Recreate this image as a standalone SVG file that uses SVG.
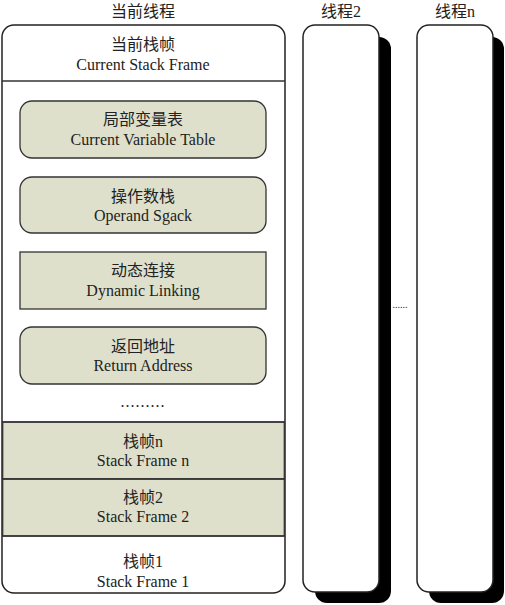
<svg xmlns="http://www.w3.org/2000/svg" width="505" height="605" viewBox="0 0 505 605">
<style>
text{font-family:"Liberation Serif","Noto Sans CJK SC",serif;font-size:16px;fill:#222;text-anchor:middle}
.box{fill:#dfe0cb;stroke:#333;stroke-width:1.3}
.outer{fill:#fff;stroke:#222;stroke-width:1.5}
.shadow{fill:#000}
.line{stroke:#333;stroke-width:1.3;fill:none}
</style>
<rect width="505" height="605" fill="#fff"/>
<g id="thread-current">
<text x="143" y="17">当前线程</text>
<rect class="outer" x="2" y="25" width="283" height="568" rx="12"/>
<rect class="box" x="2.7" y="422" width="281.6" height="57" stroke="none"/>
<rect class="box" x="2.7" y="479" width="281.6" height="57" stroke="none"/>
<line class="line" x1="2" y1="81" x2="285" y2="81"/>
<line class="line" x1="2" y1="422" x2="285" y2="422"/>
<line class="line" x1="2" y1="479" x2="285" y2="479"/>
<line class="line" x1="2" y1="536" x2="285" y2="536"/>
</g>
<g id="current-frame">
<text x="143" y="50">当前栈帧</text>
<text x="143" y="70">Current Stack Frame</text>
</g>
<g id="local-var-table">
<rect class="box" x="20" y="101" width="246" height="57" rx="12"/>
<text x="143" y="125">局部变量表</text>
<text x="143" y="145">Current Variable Table</text>
</g>
<g id="operand-stack">
<rect class="box" x="20" y="177" width="246" height="56" rx="12"/>
<text x="143" y="202">操作数栈</text>
<text x="143" y="221">Operand Sgack</text>
</g>
<g id="dynamic-linking">
<rect class="box" x="20" y="252" width="246" height="57"/>
<text x="143" y="276">动态连接</text>
<text x="143" y="296">Dynamic Linking</text>
</g>
<g id="return-address">
<rect class="box" x="20" y="327" width="246" height="57" rx="12"/>
<text x="143" y="352">返回地址</text>
<text x="143" y="371">Return Address</text>
</g>
<g id="ellipsis">
<text x="143" y="407" style="letter-spacing:1px">.........</text>
</g>
<g id="frame-n">
<text x="143" y="447">栈帧n</text>
<text x="143" y="466">Stack Frame n</text>
</g>
<g id="frame-2">
<text x="143" y="503">栈帧2</text>
<text x="143" y="522">Stack Frame 2</text>
</g>
<g id="frame-1">
<text x="143" y="567">栈帧1</text>
<text x="143" y="587">Stack Frame 1</text>
</g>
<g id="thread-2">
<text x="341" y="17">线程2</text>
<rect class="shadow" x="315" y="37" width="76" height="566" rx="12"/>
<rect class="outer" x="303" y="25" width="76" height="567" rx="12"/>
</g>
<g id="thread-n">
<text x="455" y="17">线程n</text>
<rect class="shadow" x="429" y="37" width="75" height="566" rx="12"/>
<rect class="outer" x="417" y="25" width="76" height="567" rx="12"/>
</g>
<g id="between-dots">
<text x="400" y="308" style="font-size:10px">......</text>
</g>
</svg>
